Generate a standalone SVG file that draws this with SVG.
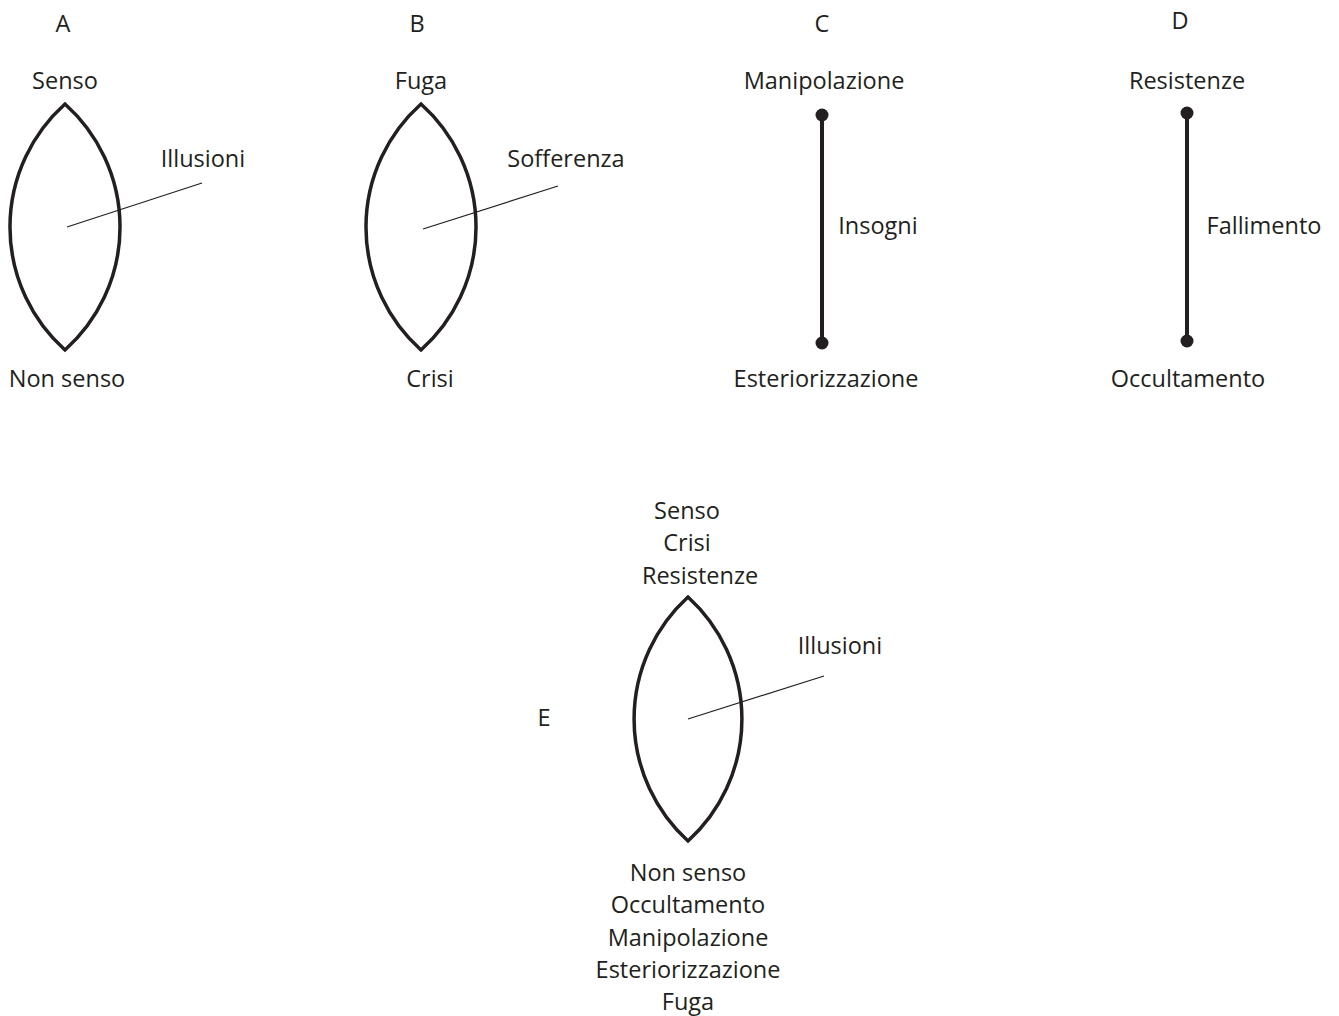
<svg xmlns="http://www.w3.org/2000/svg" width="1339" height="1016" viewBox="0 0 1339 1016">
<style>
text{font-family:"Open Sans","Liberation Sans",sans-serif;font-size:23.5px;fill:#231f20;text-anchor:middle}
.lens{fill:none;stroke:#231f20;stroke-width:3.5}
.thin{stroke:#231f20;stroke-width:1.2}
.bar{stroke:#231f20;stroke-width:4}
.dot{fill:#231f20}
</style>
<rect width="1339" height="1016" fill="#fff"/>
<g id="panel-labels">
<text x="63" y="32">A</text>
<text x="417" y="32">B</text>
<text x="822" y="32">C</text>
<text x="1180" y="29">D</text>
<text x="544" y="726">E</text>
</g>
<g id="nodeA">
<path class="lens" d="M65,104 A165,165 0 0,0 65,350 A165,165 0 0,0 65,104Z"/>
<text x="65" y="89">Senso</text>
<text x="67" y="387">Non senso</text>
<text x="203" y="167">Illusioni</text>
</g>
<g id="nodeB">
<path class="lens" d="M421,104 A165,165 0 0,0 421,350 A165,165 0 0,0 421,104Z"/>
<text x="421" y="89">Fuga</text>
<text x="430" y="387">Crisi</text>
<text x="566" y="167">Sofferenza</text>
</g>
<g id="nodeC">
<text x="824" y="89">Manipolazione</text>
<text x="878" y="234">Insogni</text>
<text x="826" y="387">Esteriorizzazione</text>
</g>
<g id="nodeD">
<text x="1187" y="89">Resistenze</text>
<text x="1264" y="234">Fallimento</text>
<text x="1188" y="387">Occultamento</text>
</g>
<g id="nodeE">
<path class="lens" d="M688,597 A165,165 0 0,0 688,841 A165,165 0 0,0 688,597Z"/>
<text x="687" y="519">Senso</text>
<text x="687" y="551">Crisi</text>
<text x="700" y="584">Resistenze</text>
<text x="840" y="654">Illusioni</text>
<text x="688" y="881">Non senso</text>
<text x="688" y="913">Occultamento</text>
<text x="688" y="946">Manipolazione</text>
<text x="688" y="978">Esteriorizzazione</text>
<text x="688" y="1010">Fuga</text>
</g>
<g id="connectors">
<line class="thin" x1="67" y1="227" x2="202" y2="183"/>
<line class="thin" x1="423" y1="229" x2="558" y2="186"/>
<line class="thin" x1="688" y1="719" x2="824" y2="676"/>
<line class="bar" x1="822" y1="115" x2="822" y2="343"/>
<circle class="dot" cx="822" cy="115" r="6.5"/>
<circle class="dot" cx="822" cy="343" r="6.5"/>
<line class="bar" x1="1187" y1="113" x2="1187" y2="341"/>
<circle class="dot" cx="1187" cy="113" r="6.5"/>
<circle class="dot" cx="1187" cy="341" r="6.5"/>
</g>
</svg>
